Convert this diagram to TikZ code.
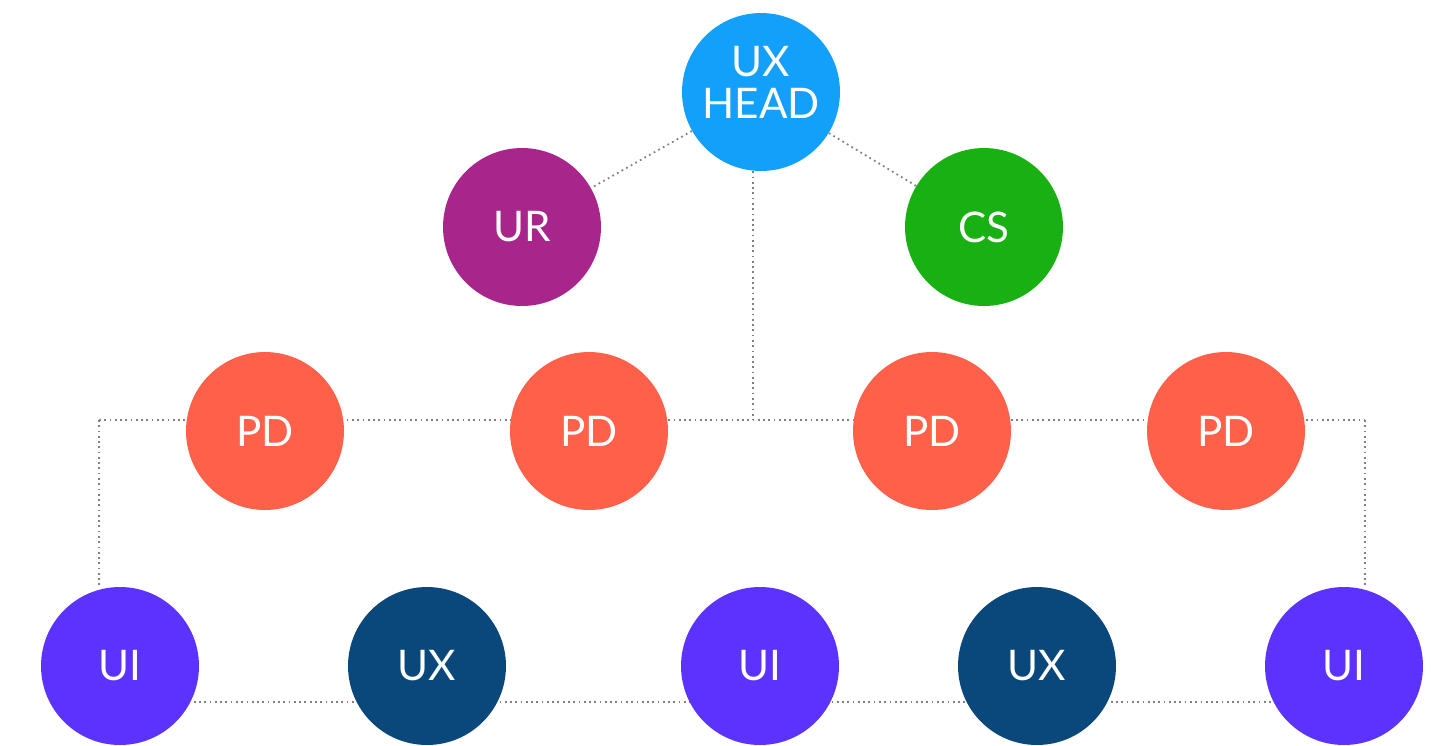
\documentclass[tikz,border=0pt]{standalone}
\usepackage{fontspec}
\setmainfont{Lato}
\usepackage{tikz}
\usetikzlibrary{backgrounds}
\definecolor{headblue}{RGB}{18,160,250}
\definecolor{urpurple}{RGB}{168,38,140}
\definecolor{csgreen}{RGB}{24,176,18}
\definecolor{pdorange}{RGB}{255,96,74}
\definecolor{uiviolet}{RGB}{92,50,255}
\definecolor{uxnavy}{RGB}{10,72,124}

\begin{document}
\begin{tikzpicture}[
  x=0.02cm, y=-0.02cm,
  role/.style={circle, minimum size=3.16cm, inner sep=0pt, text=white, align=center, font=\fontsize{24}{24}\selectfont},
  link/.style={draw=gray, dotted, line width=1pt}
]
\useasboundingbox (0,0) rectangle (1445,745);
\node[role, fill=headblue, text depth=0.4cm] (head) at (761,92) {UX\\HEAD};
\node[role, fill=urpurple] (ur) at (522,227) {UR};
\node[role, fill=csgreen] (cs) at (984,227) {CS};
\node[role, fill=pdorange] (pdA) at (265,431) {PD};
\node[role, fill=pdorange] (pdB) at (589,431) {PD};
\node[role, fill=pdorange] (pdC) at (932,431) {PD};
\node[role, fill=pdorange] (pdD) at (1226,431) {PD};
\node[role, fill=uiviolet] (uiA) at (120,666) {UI};
\node[role, fill=uxnavy] (uxA) at (427,666) {UX};
\node[role, fill=uiviolet] (uiB) at (760,666) {UI};
\node[role, fill=uxnavy] (uxB) at (1037,666) {UX};
\node[role, fill=uiviolet] (uiC) at (1344,666) {UI};
\coordinate (lt) at (99,420);
\coordinate (rt) at (1365,420);

\begin{scope}[on background layer]
\draw[link] (head) -- (ur);
\draw[link] (head) -- (cs);
\draw[link] ([xshift=-0.16cm]head.south) -- ([xshift=-0.16cm]head.south |- lt);
\draw[link] (lt) -- (rt);
\draw[link] (lt) -- (lt |- uiA.north);
\draw[link] (rt) -- (rt |- uiC.north);
\draw[link] ([yshift=-0.72cm]uiA.center) -- ([yshift=-0.72cm]uiC.center);
\end{scope}
\end{tikzpicture}
\end{document}
